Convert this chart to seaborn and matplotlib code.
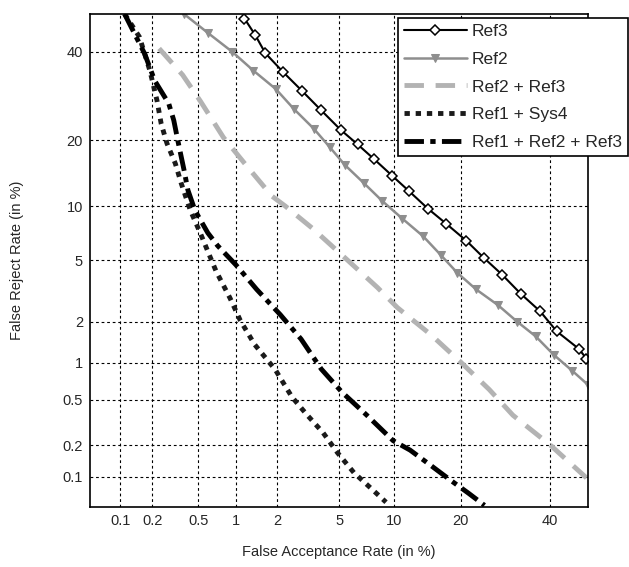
import math
import numpy as np
import pandas as pd
import matplotlib
matplotlib.use("Agg")
import matplotlib.pyplot as plt
from matplotlib.ticker import FixedLocator, NullLocator, FixedFormatter
import seaborn as sns

# ---------------- data (percent) ----------------
ref3_far = [1.16, 1.39, 1.65, 2.2, 2.94, 3.9, 5.1, 6.4, 7.9, 9.8, 11.8, 14.5,
            17.4, 21.1, 24.5, 28.5, 32.8, 37.6, 41.8, 47.6, 49.6]
ref3_frr = [48.8, 44.5, 39.7, 34.9, 30.4, 26.0, 22.0, 19.2, 16.6, 14.0, 11.9, 9.7,
            8.1, 6.5, 5.2, 4.1, 3.1, 2.36, 1.71, 1.27, 1.07]

ref2_far = [0.38, 0.6, 0.94, 1.35, 1.96, 2.6, 3.5, 4.4, 5.4, 6.9, 8.7, 11.0, 13.8,
            16.5, 19.4, 23.0, 27.6, 32.0, 36.5, 41.0, 45.9, 49.9]
ref2_frr = [50.0, 45.0, 40.0, 35.3, 30.8, 26.3, 22.2, 18.7, 15.7, 13.0, 10.6, 8.6, 6.9,
            5.4, 4.2, 3.3, 2.6, 2.0, 1.57, 1.15, 0.86, 0.67]

ref23_far = [0.23, 0.37, 0.52, 0.80, 1.22, 1.84, 2.27, 3.45, 5.75, 8.2, 10.4, 15.0,
             20.2, 25.7, 31.0, 40.2, 49.6]
ref23_frr = [40.9, 34.2, 28.1, 20.5, 15.4, 11.2, 10.0, 7.6, 4.9, 3.4, 2.5, 1.61,
             0.99, 0.61, 0.37, 0.20, 0.098]

ref1sys4_far = [0.11, 0.152, 0.19, 0.22, 0.24, 0.27, 0.32, 0.36, 0.43, 0.52, 0.61, 0.70,
                0.90, 1.08, 1.38, 1.94, 2.52, 3.13, 4.0, 4.9, 6.1, 7.6, 9.1]
ref1sys4_frr = [50.0, 43.9, 35.2, 28.2, 23.2, 19.4, 15.9, 12.9, 9.5, 7.2, 5.5, 4.3,
                2.9, 2.04, 1.37, 0.88, 0.53, 0.38, 0.26, 0.17, 0.11, 0.077, 0.056]

ref123_far = [0.11, 0.17, 0.21, 0.28, 0.31, 0.34, 0.38, 0.41, 0.47, 0.60, 0.72, 1.0,
              1.43, 2.1, 2.9, 3.9, 5.2, 7.2, 9.9, 12.0, 14.9, 18.3, 21.5, 24.7]
ref123_frr = [50.0, 39.5, 32.8, 27.5, 23.9, 19.4, 14.9, 12.0, 9.5, 7.2, 6.1, 4.7,
              3.3, 2.24, 1.5, 0.89, 0.58, 0.37, 0.22, 0.18, 0.13, 0.092, 0.069, 0.052]

tick_values = [0.1, 0.2, 0.5, 1, 2, 5, 10, 20, 40]
tick_labels = ["0.1", "0.2", "0.5", "1", "2", "5", "10", "20", "40"]
labels = ["Ref3", "Ref2", "Ref2 + Ref3", "Ref1 + Sys4", "Ref1 + Ref2 + Ref3"]


# ---------------- probit (normal deviate) scale ----------------
_a = [-3.969683028665376e+01, 2.209460984245205e+02, -2.759285104469687e+02,
      1.383577518672690e+02, -3.066479806614716e+01, 2.506628277459239e+00]
_b = [-5.447609879822406e+01, 1.615858368580409e+02, -1.556989798598866e+02,
      6.680131188771972e+01, -1.328068155288572e+01]
_c = [-7.784894002430293e-03, -3.223964580411365e-01, -2.400758277161838e+00,
      -2.549732539343734e+00, 4.374664141464968e+00, 2.938163982698783e+00]
_d = [7.784695709041462e-03, 3.224671290700398e-01, 2.445134137142996e+00,
      3.754408661907416e+00]


def _ppf(p):
    p = np.asarray(p, dtype=float)
    shape = p.shape
    p = np.clip(np.atleast_1d(p).ravel(), 1e-12, 1 - 1e-12)
    x = np.empty_like(p)
    plow = 0.02425
    lo = p < plow
    hi = p > 1 - plow
    mid = ~(lo | hi)
    q = np.sqrt(-2 * np.log(p[lo]))
    x[lo] = (((((_c[0]*q+_c[1])*q+_c[2])*q+_c[3])*q+_c[4])*q+_c[5]) / \
        ((((_d[0]*q+_d[1])*q+_d[2])*q+_d[3])*q+1)
    q = np.sqrt(-2 * np.log(1 - p[hi]))
    x[hi] = -(((((_c[0]*q+_c[1])*q+_c[2])*q+_c[3])*q+_c[4])*q+_c[5]) / \
        ((((_d[0]*q+_d[1])*q+_d[2])*q+_d[3])*q+1)
    q = p[mid] - 0.5
    r = q * q
    x[mid] = (((((_a[0]*r+_a[1])*r+_a[2])*r+_a[3])*r+_a[4])*r+_a[5])*q / \
        (((((_b[0]*r+_b[1])*r+_b[2])*r+_b[3])*r+_b[4])*r+1)
    return x.reshape(shape)


_erf = np.vectorize(math.erf)


def fwd(v):
    return _ppf(np.asarray(v, dtype=float) / 100.0)


def inv(z):
    z = np.asarray(z, dtype=float)
    return 100.0 * 0.5 * (1 + _erf(z / math.sqrt(2)))


# ---------------- plot ----------------
sns.set_style("white")
plt.rcParams["font.family"] = ["Liberation Sans", "DejaVu Sans"]

fig = plt.figure(figsize=(6.29, 5.67), dpi=100)
ax = fig.add_axes([90 / 629, 1 - 507 / 567, 498 / 629, 493 / 567])
ax.set_xscale("function", functions=(fwd, inv))
ax.set_yscale("function", functions=(fwd, inv))

series = [
    (ref3_far, ref3_frr, dict(color="black", lw=1.5, marker="D", markersize=5,
                              markerfacecolor="white", markeredgecolor="black",
                              markeredgewidth=1.1)),
    (ref2_far, ref2_frr, dict(color="#8e8e8e", lw=1.8, marker="v", markersize=6,
                              markerfacecolor="#8e8e8e", markeredgecolor="#8e8e8e")),
    (ref23_far, ref23_frr, dict(color="#b3b3b3", lw=3.5, dashes=(4, 2.4))),
    (ref1sys4_far, ref1sys4_frr, dict(color="#1a1a1a", lw=3.5, dashes=(1.1, 1.2))),
    (ref123_far, ref123_frr, dict(color="black", lw=3.5, dashes=(4, 1.3, 1.1, 1.3))),
]

for (fx, fy, st), lab in zip(series, labels):
    df = pd.DataFrame({"FAR": fx, "FRR": fy})
    kw = dict(st)
    dashes = kw.pop("dashes", None)
    sns.lineplot(data=df, x="FAR", y="FRR", ax=ax, sort=False, estimator=None,
                 label=lab, legend=False, **kw)
    if dashes is not None:
        ax.lines[-1].set_dashes(dashes)

ax.set_xlim(0.05, 50)
ax.set_ylim(0.05, 50)
for axis in (ax.xaxis, ax.yaxis):
    axis.set_major_locator(FixedLocator(tick_values))
    axis.set_major_formatter(FixedFormatter(tick_labels))
    axis.set_minor_locator(NullLocator())

ax.grid(True, color="black", lw=0.8, ls=(0, (2.5, 2.5)))
ax.tick_params(axis="both", labelsize=10.5, direction="in", length=3, color="black",
               pad=5)
for sp in ax.spines.values():
    sp.set_color("black")
    sp.set_linewidth(1.2)

ax.set_xlabel("False Acceptance Rate (in %)", fontsize=10.5, labelpad=12)
ax.set_ylabel("False Reject Rate (in %)", fontsize=10.5, labelpad=28)

handles = ax.lines[:5]
leg = fig.legend(handles, labels, loc="upper left",
                 bbox_to_anchor=(398 / 629, 1 - 18 / 567),
                 bbox_transform=fig.transFigure, fontsize=12.5, frameon=True,
                 fancybox=False, framealpha=1, edgecolor="black", numpoints=1,
                 handlelength=3.6, labelspacing=0.72, borderpad=0.35,
                 handletextpad=0.3, borderaxespad=0)
leg.get_frame().set_linewidth(1.2)

fig.savefig("out.png", dpi=100, facecolor="white")
